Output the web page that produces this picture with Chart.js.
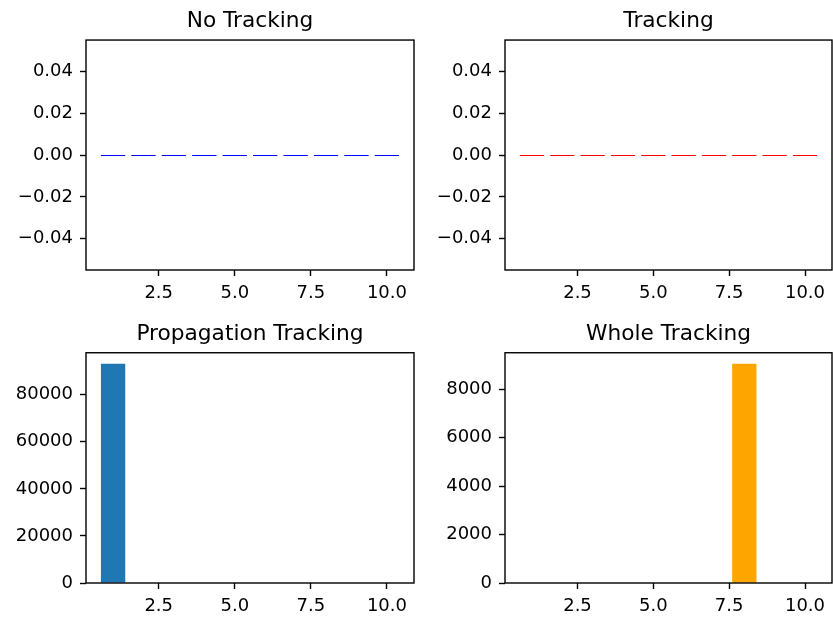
<!DOCTYPE html>
<html><head><meta charset="utf-8">
<script src="https://cdn.jsdelivr.net/npm/chart.js@4"></script>
<style>
body{margin:0;background:#fff;width:833px;height:617px;overflow:hidden;position:relative}
canvas{position:absolute}
</style>
</head><body>
<canvas id="c1" width="420" height="305" style="left:0;top:0"></canvas>
<canvas id="c2" width="413" height="305" style="left:420px;top:0"></canvas>
<canvas id="c3" width="420" height="312" style="left:0;top:305px"></canvas>
<canvas id="c4" width="413" height="312" style="left:420px;top:305px"></canvas>
<script>
// ---- data ----
const categories = [1, 2, 3, 4, 5, 6, 7, 8, 9, 10];
const noTracking = [0, 0, 0, 0, 0, 0, 0, 0, 0, 0];
const tracking = [0, 0, 0, 0, 0, 0, 0, 0, 0, 0];
const propagationTracking = [93150, 0, 0, 0, 0, 0, 0, 0, 0, 0];
const wholeTracking = [0, 0, 0, 0, 0, 0, 0, 9055, 0, 0];
const titles = ['No Tracking', 'Tracking', 'Propagation Tracking', 'Whole Tracking'];
const xTicks = [2.5, 5.0, 7.5, 10.0];
const xLimits = [0.11, 10.89];
const flatYTicks = [-0.04, -0.02, 0.00, 0.02, 0.04];
const flatYLimits = [-0.055, 0.055];
const propYTicks = [0, 20000, 40000, 60000, 80000];
const wholeYTicks = [0, 2000, 4000, 6000, 8000];

Chart.defaults.font.family = 'DejaVu Sans';
Chart.defaults.color = '#000';

const framePlugin = {
  id: 'frame',
  afterDatasetsDraw(chart, args, opts) {
    const ctx = chart.ctx;
    if (opts.zeroEdge) {
      const meta = chart.getDatasetMeta(0);
      ctx.save();
      ctx.strokeStyle = opts.zeroEdge;
      ctx.lineWidth = 1;
      meta.data.forEach(el => {
        const p = el.getProps(['x', 'y', 'width', 'base'], true);
        if (Math.abs(p.y - p.base) < 0.5) {
          const yy = Math.round(p.y) + 0.5;
          ctx.beginPath();
          ctx.moveTo(p.x - p.width / 2, yy);
          ctx.lineTo(p.x + p.width / 2, yy);
          ctx.stroke();
        }
      });
      ctx.restore();
    }
  },
  afterDraw(chart) {
    const a = chart.chartArea, ctx = chart.ctx;
    ctx.save();
    ctx.strokeStyle = '#000';
    ctx.lineWidth = 1.4;
    ctx.strokeRect(a.left, a.top, a.right - a.left, a.bottom - a.top);
    ctx.restore();
  }
};

function makeChart(id, cfg) {
  const ymax = cfg.yLimits ? cfg.yLimits[1] : Math.max(...cfg.values) * 1.05;
  const ymin = cfg.yLimits ? cfg.yLimits[0] : 0;
  return new Chart(document.getElementById(id), {
    type: 'bar',
    data: {
      datasets: [{
        data: categories.map((c, i) => ({x: c, y: cfg.values[i]})),
        backgroundColor: cfg.color,
        borderWidth: 0,
        barPercentage: 0.8,
        categoryPercentage: 1.0
      }]
    },
    options: {
      responsive: false,
      animation: false,
      events: [],
      layout: {padding: {left: 0, right: cfg.padRight, top: 0, bottom: 0}},
      plugins: {
        legend: {display: false},
        tooltip: {enabled: false},
        title: {
          display: true,
          text: cfg.title,
          fullSize: false,
          color: '#000',
          font: {size: 21.7, weight: 'normal', family: 'DejaVu Sans', lineHeight: 1.2},
          padding: {top: cfg.titleTop, bottom: 5.2}
        },
        frame: {zeroEdge: cfg.zeroEdge}
      },
      scales: {
        x: {
          type: 'linear',
          min: xLimits[0],
          max: xLimits[1],
          offset: false,
          border: {display: false},
          grid: {offset: false, drawOnChartArea: false, drawTicks: true, tickLength: 6, tickWidth: 1.4, tickColor: '#000'},
          ticks: {font: {size: 18}, padding: 6.5, maxRotation: 0, autoSkip: false,
                  callback: v => Number(v).toFixed(1)},
          afterBuildTicks: s => { s.ticks = xTicks.map(v => ({value: v})); },
          afterFit: s => { s.height = cfg.xAxisH; }
        },
        y: {
          type: 'linear',
          min: ymin,
          max: ymax,
          border: {display: false},
          grid: {offset: false, drawOnChartArea: false, drawTicks: true, tickLength: 6, tickWidth: 1.4, tickColor: '#000'},
          ticks: {font: {size: 18}, padding: 7, autoSkip: false,
                  callback: v => cfg.fmt(v)},
          afterBuildTicks: s => { s.ticks = cfg.yTicks.map(v => ({value: v})); },
          afterFit: s => { s.width = cfg.yAxisW; }
        }
      }
    },
    plugins: [framePlugin]
  });
}

const fmtFlat = v => Number(v).toFixed(2).replace('-', '\u2212');
const fmtInt = v => String(Math.round(v));

makeChart('c1', {title: titles[0], values: noTracking, color: '#1f77b4', zeroEdge: '#0000ff',
  yLimits: flatYLimits, yTicks: flatYTicks, fmt: fmtFlat, yAxisW: 86, padRight: 6, xAxisH: 35, titleTop: 8.8});
makeChart('c2', {title: titles[1], values: tracking, color: '#1f77b4', zeroEdge: '#ff0000',
  yLimits: flatYLimits, yTicks: flatYTicks, fmt: fmtFlat, yAxisW: 85, padRight: 1, xAxisH: 35, titleTop: 8.8});
makeChart('c3', {title: titles[2], values: propagationTracking, color: '#1f77b4', zeroEdge: null,
  yTicks: propYTicks, fmt: fmtInt, yAxisW: 86, padRight: 6, xAxisH: 34, titleTop: 16.5});
makeChart('c4', {title: titles[3], values: wholeTracking, color: '#ffa500', zeroEdge: null,
  yTicks: wholeYTicks, fmt: fmtInt, yAxisW: 85, padRight: 1, xAxisH: 34, titleTop: 16.5});
</script>
</body></html>
